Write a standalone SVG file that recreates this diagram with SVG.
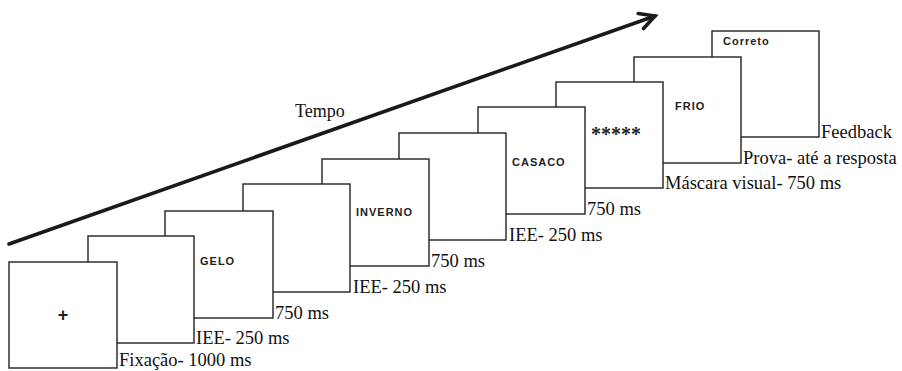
<svg xmlns="http://www.w3.org/2000/svg" width="902" height="371" viewBox="0 0 902 371">
<style>
.box{fill:#fff;stroke:#222;stroke-width:1.4}
.lbl{font-family:"Liberation Serif","Times New Roman",serif;font-size:18.5px;fill:#111}
.word{font-family:"Liberation Sans",Arial,sans-serif;font-size:11px;font-weight:bold;letter-spacing:1px;fill:#222}
.conn{stroke:#1a1a1a;stroke-width:3.6;fill:none;stroke-linecap:round}
</style>
<defs>
<marker id="head" markerUnits="userSpaceOnUse" markerWidth="30" markerHeight="30" refX="0" refY="0" viewBox="-20 -15 30 30" orient="auto" overflow="visible">
<path d="M-15,-8 L0,0 L-15,8" fill="none" stroke="#1a1a1a" stroke-width="3.6" stroke-linecap="round" stroke-linejoin="miter"/>
</marker>
</defs>
<rect width="902" height="371" fill="#fff"/>
<g id="connectors">
<line class="conn" x1="9" y1="244" x2="655" y2="16" marker-end="url(#head)"/>
<text class="lbl" x="295" y="117" style="font-size:18px">Tempo</text>
</g>
<g id="n10"><rect class="box" x="712" y="31" width="107" height="106"/><text class="word" x="723" y="45">Correto</text><text class="lbl" x="821" y="138">Feedback</text></g>
<g id="n9"><rect class="box" x="634" y="57" width="107" height="106"/><text class="word" x="675" y="110">FRIO</text><text class="lbl" x="743" y="164">Prova- até a resposta</text></g>
<g id="n8"><rect class="box" x="556" y="82" width="107" height="106"/><text x="591" y="141" style="font-family:'Liberation Serif',serif;font-size:20px;font-weight:bold;fill:#222">*****</text><text class="lbl" x="665" y="189">Máscara visual- 750 ms</text></g>
<g id="n7"><rect class="box" x="478" y="107" width="107" height="107"/><text class="word" x="512" y="166">CASACO</text><text class="lbl" x="587" y="215">750 ms</text></g>
<g id="n6"><rect class="box" x="399" y="133" width="107" height="107"/><text class="lbl" x="509" y="241">IEE- 250 ms</text></g>
<g id="n5"><rect class="box" x="322" y="159" width="107" height="107"/><text class="word" x="356" y="216">INVERNO</text><text class="lbl" x="431" y="267">750 ms</text></g>
<g id="n4"><rect class="box" x="243" y="184" width="107" height="108"/><text class="lbl" x="353" y="293">IEE- 250 ms</text></g>
<g id="n3"><rect class="box" x="165" y="211" width="108" height="107"/><text class="word" x="200" y="265">GELO</text><text class="lbl" x="275" y="319">750 ms</text></g>
<g id="n2"><rect class="box" x="88" y="236" width="106" height="107"/><text class="lbl" x="196" y="344">IEE- 250 ms</text></g>
<g id="n1"><rect class="box" x="9" y="262" width="108" height="106"/><text x="63" y="321" text-anchor="middle" style="font-family:'Liberation Sans',Arial,sans-serif;font-size:18px;font-weight:bold;fill:#222">+</text><text class="lbl" x="119" y="366">Fixação- 1000 ms</text></g>
</svg>
